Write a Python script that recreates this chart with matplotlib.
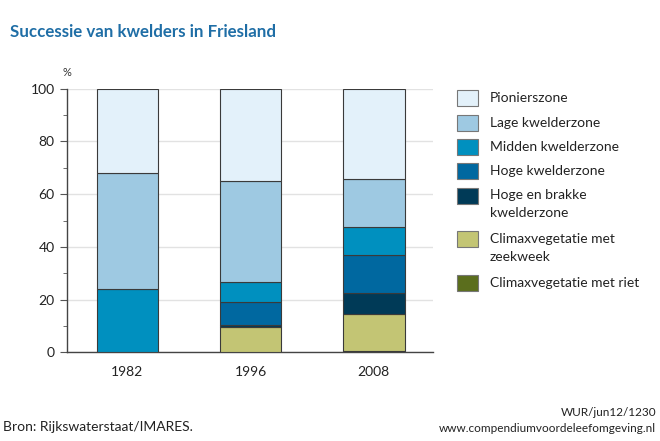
import matplotlib
matplotlib.use("Agg")
import matplotlib.pyplot as plt
from matplotlib.patches import Rectangle
import numpy as np

plt.rcParams['font.family'] = ['Lato', 'DejaVu Sans']

years = ['1982', '1996', '2008']
zones = ['Pionierszone', 'Lage kwelderzone', 'Midden kwelderzone',
         'Hoge kwelderzone', 'Hoge en brakke\nkwelderzone',
         'Climaxvegetatie met\nzeekweek', 'Climaxvegetatie met riet']
colors = ['#e3f1fa', '#9ec9e2', '#0090bf', '#0068a0', '#003a57', '#c3c574', '#5b6e1d']

# percentages per year, stacked bottom-up from riet to pionier
riet = [0.0, 0.0, 0.5]
zeekweek = [0.0, 9.6, 13.9]
brakke = [0.0, 0.6, 8.0]
hoge = [0.0, 9.0, 14.4]
midden = [24.0, 7.5, 10.7]
lage = [44.0, 38.3, 18.2]
pionier = [32.0, 35.0, 34.3]

series = [pionier, lage, midden, hoge, brakke, zeekweek, riet]

fig = plt.figure(figsize=(6.6, 4.41), dpi=100)
ax = fig.add_axes([0.1015, 0.201, 0.5545, 0.598])

x = np.arange(len(years))
bottom = np.zeros(len(years))
for vals, col in zip(series[::-1], colors[::-1]):
    v = np.array(vals)
    ax.bar(x, v, width=0.5, bottom=bottom, color=col, edgecolor='#3a3a3a',
           linewidth=0.8, zorder=3)
    bottom += v

ax.set_xlim(-0.49, 2.48)
ax.set_ylim(0, 100)
ax.set_yticks(range(0, 101, 20))
ax.set_yticks(range(10, 100, 20), minor=True)
ax.set_xticks(x)
ax.set_xticklabels(years, fontsize=10, color='#222222')
ax.tick_params(axis='x', length=0, pad=10)
ax.tick_params(axis='y', which='major', length=5, color='#555555', labelsize=10,
               labelcolor='#222222', pad=4)
ax.tick_params(axis='y', which='minor', length=3, color='#555555')
ax.grid(axis='y', color='#e2e2e2', linewidth=1, zorder=0)
for s in ['top', 'right']:
    ax.spines[s].set_visible(False)
for s in ['left', 'bottom']:
    ax.spines[s].set_color('#444444')
    ax.spines[s].set_linewidth(1)
ax.text(0.0, 1.04, '%', transform=ax.transAxes, fontsize=8, color='#333333',
        ha='center', va='bottom')

fig.text(10 / 660, 1 - 32 / 441, 'Successie van kwelders in Friesland',
         fontsize=12.2, fontweight='bold', color='#1f6ea6', va='center')

# legend drawn by hand to match the layout
label_y = [98, 123, 147, 171, 204, 248, 283]
for lab, col, ly in zip(zones, colors, label_y):
    nlines = lab.count('\n') + 1
    py = ly - (nlines - 1) * 8.5
    fig.patches.append(Rectangle((457 / 660, 1 - (py + 8) / 441), 21 / 660, 16 / 441,
                                 transform=fig.transFigure, facecolor=col,
                                 edgecolor='#777777', linewidth=0.8))
    fig.text(490 / 660, 1 - ly / 441, lab, fontsize=10, color='#222222',
             va='center', linespacing=1.6)

fig.text(3 / 660, 1 - 427 / 441, 'Bron: Rijkswaterstaat/IMARES.', fontsize=10,
         color='#222222', va='center')
fig.text(656 / 660, 1 - 413 / 441, 'WUR/jun12/1230', fontsize=8.5,
         color='#222222', va='center', ha='right')
fig.text(656 / 660, 1 - 428 / 441, 'www.compendiumvoordeleefomgeving.nl', fontsize=8.5,
         color='#222222', va='center', ha='right')

fig.savefig('out.png', dpi=100)
